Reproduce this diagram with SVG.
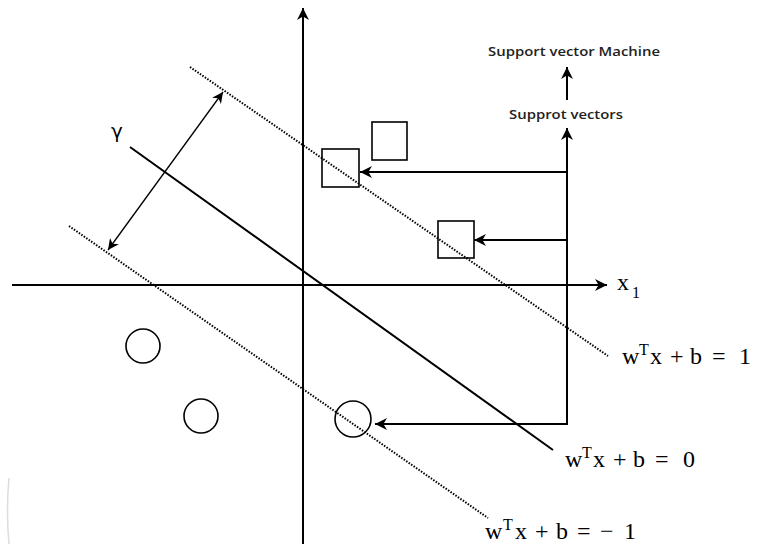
<svg xmlns="http://www.w3.org/2000/svg" width="767" height="544" viewBox="0 0 767 544">
<defs>
<marker id="ah" viewBox="0 0 10 10" refX="10" refY="5" markerWidth="12" markerHeight="12" markerUnits="userSpaceOnUse" orient="auto">
<path d="M0,0 L10,5 L0,10 L3,5 Z" fill="#000"/>
</marker>
<marker id="ahs" viewBox="0 0 10 10" refX="10" refY="5" markerWidth="11" markerHeight="11" markerUnits="userSpaceOnUse" orient="auto-start-reverse">
<path d="M0,0 L10,5 L0,10 L3,5 Z" fill="#000"/>
</marker>
</defs>
<style>
.ax{stroke:#000;stroke-width:2;fill:none}
.dot{stroke:#000;stroke-width:2;stroke-dasharray:1.5,1.5;fill:none}
.pt{stroke:#000;stroke-width:1.6;fill:none}
.lbl{font-family:"Open Sans","DejaVu Sans",sans-serif;font-size:12.5px;font-weight:600;fill:#222}
.eq{font-family:"Liberation Serif","DejaVu Serif",serif;font-size:24px;fill:#000}
.sup{font-size:16px}
</style>
<rect width="767" height="544" fill="#fff"/>
<g id="axes">
<line class="ax" x1="12" y1="285" x2="607" y2="285" marker-end="url(#ah)"/>
<line class="ax" x1="303" y1="544" x2="303" y2="8" marker-end="url(#ah)"/>
<text class="eq"><tspan x="617" y="290">x</tspan><tspan class="sup" x="632" y="298">1</tspan></text>
</g>
<g id="hyperplanes">
<line class="ax" x1="130" y1="147" x2="553" y2="450"/>
<line class="dot" x1="190" y1="67" x2="608" y2="356"/>
<line class="dot" x1="69" y1="226" x2="488" y2="518"/>
</g>
<g id="margin">
<line stroke="#000" stroke-width="1.3" x1="108" y1="250" x2="223" y2="92" marker-start="url(#ahs)" marker-end="url(#ahs)"/>
<text x="111" y="138" font-family="DejaVu Sans, sans-serif" font-size="20">γ</text>
</g>
<g id="squares">
<rect class="pt" x="322" y="149" width="37" height="38"/>
<rect class="pt" x="372" y="122" width="35" height="38"/>
<rect class="pt" x="438" y="221" width="36" height="37"/>
</g>
<g id="circles">
<circle class="pt" cx="143" cy="346" r="17"/>
<circle class="pt" cx="201" cy="416" r="17"/>
<circle class="pt" cx="353" cy="419" r="18"/>
</g>
<g id="connectors">
<polyline class="ax" points="567,424 567,128" marker-end="url(#ah)"/>
<line class="ax" x1="568" y1="424" x2="375" y2="424" marker-end="url(#ah)"/>
<line class="ax" x1="567" y1="172" x2="360" y2="172" marker-end="url(#ah)"/>
<line class="ax" x1="567" y1="240" x2="474" y2="240" marker-end="url(#ah)"/>
<line class="ax" x1="567" y1="100" x2="567" y2="67" marker-end="url(#ah)"/>
</g>
<g id="labels">
<text class="lbl" x="574" y="56" text-anchor="middle" textLength="172" lengthAdjust="spacingAndGlyphs">Support vector Machine</text>
<text class="lbl" x="566" y="119" text-anchor="middle" textLength="114" lengthAdjust="spacingAndGlyphs">Supprot vectors</text>
<text class="eq"><tspan x="622" y="364">w</tspan><tspan class="sup" x="639" y="355">T</tspan><tspan x="650" y="364">x</tspan><tspan x="670" y="364">+</tspan><tspan x="690" y="364">b</tspan><tspan x="712" y="364">=</tspan><tspan x="739" y="364">1</tspan></text>
<text class="eq"><tspan x="565" y="467">w</tspan><tspan class="sup" x="582" y="458">T</tspan><tspan x="593" y="467">x</tspan><tspan x="613" y="467">+</tspan><tspan x="633" y="467">b</tspan><tspan x="655" y="467">=</tspan><tspan x="683" y="467">0</tspan></text>
<text class="eq"><tspan x="485" y="539">w</tspan><tspan class="sup" x="503" y="530">T</tspan><tspan x="515" y="539">x</tspan><tspan x="535" y="539">+</tspan><tspan x="556" y="539">b</tspan><tspan x="577" y="539">=</tspan><tspan x="600" y="539">−</tspan><tspan x="624" y="539">1</tspan></text>
</g>
<path d="M9,478 Q6,511 9,544" stroke="#ddd" stroke-width="1.5" fill="none"/>
</svg>
